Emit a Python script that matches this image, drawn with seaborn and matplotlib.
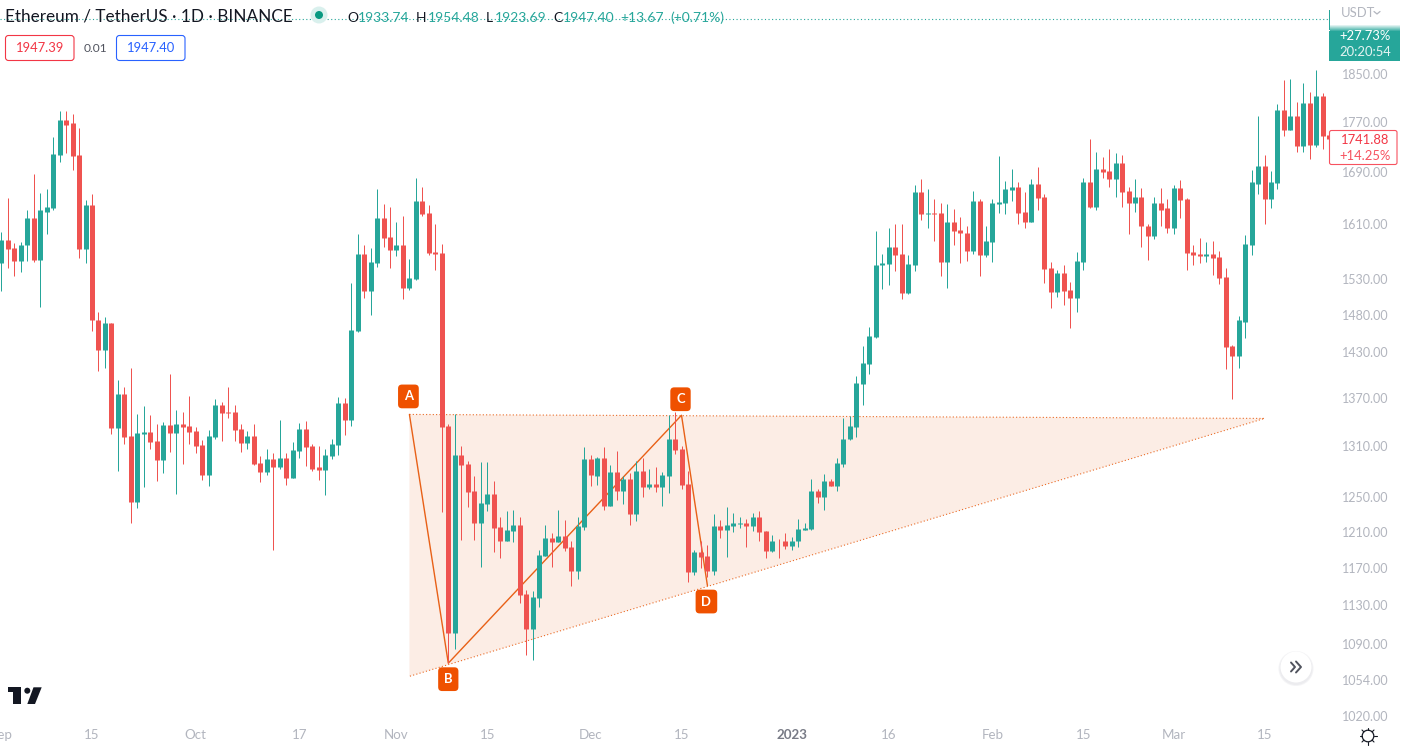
import numpy as np
import pandas as pd
import matplotlib
matplotlib.use("Agg")
import matplotlib.pyplot as plt
from matplotlib.patches import FancyBboxPatch, Circle, Rectangle, Polygon
import seaborn as sns

opens = [1553,1586,1574,1556,1578,1618,1557,1628,1634,1716,
1773,1767,1716,1573,1638,1473,1432,1469,1332,1375,
1322,1244,1325,1327,1316,1293,1336,1326,1337,1335,
1328,1311,1275,1321,1361,1352,1352,1331,1314,1322,
1289,1279,1294,1285,1295,1272,1304,1331,1310,1285,
1281,1298,1311,1363,1342,1458,1566,1513,1553,1619,
1591,1571,1579,1517,1530,1645,1626,1569,1567,1335,
1101,1299,1288,1256,1220,1241,1253,1215,1199,1211,
1217,1142,1105,1138,1183,1203,1198,1205,1193,1167,
1215,1294,1274,1295,1239,1279,1257,1270,1230,1280,
1261,1265,1261,1274,1319,1306,1265,1166,1187,1183,
1167,1216,1212,1216,1219,1220,1216,1227,1211,1189,
1200,1200,1194,1199,1212,1213,1256,1249,1268,1262,
1288,1318,1333,1388,1414,1449,1549,1551,1576,1566,
1510,1550,1658,1625,1626,1626,1554,1612,1601,1596,
1570,1645,1564,1583,1640,1641,1661,1666,1628,1613,
1671,1651,1545,1511,1538,1514,1503,1554,1674,1636,
1694,1691,1678,1703,1660,1641,1651,1607,1592,1641,
1633,1604,1665,1648,1569,1566,1563,1566,1561,1532,
1437,1424,1470,1579,1671,1698,1648,1672,1790,1756,
1780,1730,1801,1732,1813,1748]
highs = [1598,1649,1582,1583,1631,1686,1657,1663,1745,1788,
1788,1783,1760,1646,1655,1483,1476,1469,1393,1384,
1409,1350,1360,1348,1337,1340,1400,1355,1352,1372,
1333,1317,1330,1368,1365,1384,1361,1337,1328,1337,
1298,1306,1301,1342,1301,1315,1338,1341,1312,1310,
1306,1319,1371,1370,1524,1595,1579,1574,1663,1640,
1636,1613,1622,1558,1680,1666,1638,1609,1580,1337,
1350,1310,1292,1274,1291,1291,1268,1227,1233,1234,
1226,1146,1145,1190,1217,1208,1235,1223,1199,1227,
1309,1299,1297,1309,1287,1304,1274,1278,1292,1295,
1283,1285,1279,1348,1352,1310,1280,1190,1200,1195,
1230,1223,1238,1231,1227,1224,1231,1233,1211,1206,
1202,1209,1204,1224,1220,1271,1259,1276,1270,1295,
1345,1347,1398,1437,1463,1599,1566,1604,1609,1610,
1564,1669,1679,1663,1648,1641,1640,1632,1620,1607,
1660,1648,1606,1648,1714,1675,1694,1674,1658,1679,
1697,1655,1554,1543,1549,1525,1569,1680,1742,1721,
1713,1726,1719,1716,1666,1678,1665,1609,1651,1665,
1648,1669,1677,1649,1578,1589,1583,1585,1570,1545,
1439,1478,1594,1692,1780,1716,1691,1799,1840,1841,
1803,1835,1819,1857,1818,1748]
lows = [1513,1545,1534,1539,1556,1554,1491,1595,1630,1705,
1719,1692,1560,1553,1458,1405,1409,1325,1280,1312,
1220,1237,1261,1306,1268,1278,1303,1253,1288,1312,
1301,1269,1262,1318,1316,1345,1316,1303,1306,1287,
1267,1275,1190,1282,1263,1272,1295,1286,1280,1269,
1252,1294,1299,1323,1335,1456,1503,1480,1547,1576,
1545,1563,1501,1514,1528,1621,1564,1543,1232,1071,
1085,1201,1238,1201,1171,1233,1187,1181,1199,1198,
1133,1079,1074,1128,1183,1171,1198,1189,1151,1158,
1212,1262,1264,1235,1239,1246,1241,1217,1222,1249,
1259,1255,1239,1254,1300,1259,1155,1162,1170,1160,
1162,1203,1182,1210,1214,1193,1211,1200,1181,1187,
1181,1191,1190,1193,1212,1212,1243,1235,1262,1257,
1285,1317,1321,1361,1401,1448,1515,1521,1541,1501,
1508,1541,1616,1604,1585,1534,1517,1578,1553,1556,
1566,1534,1561,1554,1626,1625,1645,1609,1604,1613,
1630,1524,1489,1504,1493,1462,1483,1543,1634,1630,
1680,1666,1651,1636,1595,1628,1576,1557,1587,1607,
1596,1595,1619,1543,1549,1553,1554,1535,1523,1407,
1368,1409,1448,1564,1655,1610,1633,1663,1746,1756,
1721,1721,1710,1729,1726,1740]
closes = [1586,1573,1556,1579,1618,1557,1630,1636,1717,1773,
1765,1714,1573,1638,1472,1432,1469,1332,1375,1321,
1244,1326,1327,1315,1293,1336,1326,1337,1333,1327,
1310,1275,1322,1361,1351,1351,1330,1314,1322,1288,
1279,1294,1285,1295,1272,1305,1331,1309,1283,1281,
1299,1312,1363,1342,1459,1566,1513,1554,1619,1589,
1571,1579,1517,1531,1645,1625,1567,1566,1333,1101,
1299,1287,1255,1220,1243,1253,1214,1199,1212,1217,
1141,1105,1139,1184,1203,1198,1205,1192,1167,1216,
1294,1275,1295,1239,1279,1257,1270,1230,1280,1261,
1265,1261,1275,1319,1305,1264,1166,1187,1182,1167,
1216,1212,1217,1220,1220,1216,1227,1210,1189,1200,
1199,1194,1200,1213,1214,1256,1249,1268,1262,1289,
1319,1335,1389,1415,1451,1550,1553,1576,1564,1510,
1551,1658,1625,1626,1625,1554,1612,1599,1596,1570,
1645,1564,1585,1641,1643,1663,1666,1626,1613,1671,
1649,1544,1511,1538,1513,1503,1556,1674,1636,1694,
1689,1678,1703,1658,1641,1651,1606,1592,1641,1631,
1604,1665,1646,1567,1564,1563,1566,1560,1531,1436,
1424,1472,1580,1674,1698,1648,1674,1790,1756,1780,
1730,1801,1732,1813,1746,1741.88]

price_ticks = [1850,1770,1690,1610,1530,1480,1430,1370,1310,1250,1210,1170,1130,1090,1054,1020]
date_ticks = [0,14,30,46,61,75,91,105,122,137,153,167,181,195]
date_labels = ["Sep","15","Oct","17","Nov","15","Dec","15","2023","16","Feb","15","Mar","15"]

pattern_idx = [63,69,105,109]
pattern_price = [1349,1071,1348,1151]
pattern_names = ["A","B","C","D"]
wedge_idx = [63,195,63]
wedge_price = [1349,1344,1058]
last_close = 1947.40

GREEN, RED = "#26a69a", "#ef5350"
ORANGE = "#e65100"
GRAY = "#b2b5be"

sns.set_theme(style="white")
FONT = "Lato"
plt.rcParams["font.family"] = [FONT, "DejaVu Sans"]

fig = plt.figure(figsize=(14.02, 7.5), dpi=100, facecolor="white")
ax = fig.add_axes([0, 25/750, 1329/1402, 725/750])
ax.set_yscale("log")

n = len(opens)
idx = np.arange(n)
direction = np.where(np.array(closes) >= np.array(opens), "up", "down")
wicks = pd.DataFrame({"i": np.tile(idx, 2), "price": lows + highs, "dir": np.tile(direction, 2)})
bodies = pd.DataFrame({"i": np.tile(idx, 2), "price": opens + closes, "dir": np.tile(direction, 2)})
palette = {"up": GREEN, "down": RED}

# pattern below the candles
ax.fill(wedge_idx, wedge_price, facecolor=ORANGE, alpha=0.1, edgecolor="none", zorder=1)
ax.plot(wedge_idx, wedge_price, color=ORANGE, lw=0.8, ls=(0, (1, 2)), zorder=1.5, alpha=.85)
ax.plot(pattern_idx, pattern_price, color=ORANGE, lw=1.0, zorder=1.6, alpha=.9)

sns.lineplot(data=wicks, x="i", y="price", hue="dir", units="i", estimator=None, palette=palette,
             linewidth=0.72, legend=False, sort=False, ax=ax, zorder=3, solid_capstyle="butt")
sns.lineplot(data=bodies, x="i", y="price", hue="dir", units="i", estimator=None, palette=palette,
             linewidth=3.6, legend=False, sort=False, ax=ax, zorder=4, solid_capstyle="butt")

ax.axhline(last_close, color=GREEN, lw=0.8, ls=(0, (1, 2.2)), zorder=2)

ax.set_xlim(-0.2, 204.95)
ax.set_ylim(1011.3, 1981.5)
ax.set_xlabel("")
ax.set_ylabel("")
for s in ax.spines.values():
    s.set_visible(False)
ax.yaxis.tick_right()
ax.yaxis.set_minor_locator(matplotlib.ticker.NullLocator())
ax.set_yticks(price_ticks)
ax.set_yticklabels([f"{p:.2f}" for p in price_ticks])
ax.set_xticks(date_ticks)
ax.set_xticklabels(date_labels)
ax.tick_params(axis="y", length=0, pad=9.4, labelsize=9.0, labelcolor=GRAY)
ax.tick_params(axis="x", length=0, pad=3, labelsize=9.6, labelcolor=GRAY)
for t in ax.get_xticklabels():
    if t.get_text() == "2023":
        t.set_fontweight("bold")
        t.set_color("#787b86")

# pattern point labels
offs = {"A": (-1, 18), "B": (0, -16), "C": (-1, 16), "D": (-1, -16)}
for name, i, p in zip(pattern_names, pattern_idx, pattern_price):
    ax.annotate(name, (i, p), xytext=offs[name], textcoords="offset pixels", ha="center", va="center",
                color="white", fontsize=9.4, fontweight="bold", zorder=6,
                bbox=dict(boxstyle="round,pad=0.45,rounding_size=0.3", fc="#ef5100", ec="none"))

# overlay in pixel coordinates for the terminal furniture
ov = fig.add_axes([0, 0, 1, 1], zorder=10)
ov.set_xlim(0, 1402)
ov.set_ylim(750, 0)
ov.axis("off")

def txt(x, y, s, color, size=9.4, ha="left", **kw):
    ov.text(x, y, s, color=color, fontsize=size, ha=ha, va="center", **kw)

txt(5, 17, "Ethereum / TetherUS · 1D · BINANCE", "#131722", size=12.3)
ov.add_patch(Circle((319, 15), 8.5, fc="#d9f0ed", ec="none"))
ov.add_patch(Circle((319, 15), 4, fc="#089981", ec="none"))

for x, s, c in [(347, "O", "#131722"), (358, "1933.74", GREEN), (416, "H", "#131722"), (428, "1954.48", GREEN),
                (486, "L", "#131722"), (495, "1923.69", GREEN), (553, "C", "#131722"), (563, "1947.40", GREEN),
                (620, "+13.67", GREEN), (670, "(+0.71%)", GREEN)]:
    txt(x, 18, s, c, size=10)

for x0, x1, c, s in [(5.5, 74, "#f23645", "1947.39"), (116.5, 185, "#2962ff", "1947.40")]:
    ov.add_patch(FancyBboxPatch((x0, 35.5), x1 - x0, 25, boxstyle="round,pad=0,rounding_size=3",
                                fc="white", ec=c, lw=0.8, mutation_aspect=1))
    txt((x0 + x1) / 2, 48, s, c, size=9.4, ha="center")
txt(95, 48, "0.01", "#50535e", size=8.6, ha="center")

# currency and countdown panel
txt(1341, 13, "USDT", GRAY, size=9.4)
ov.plot([1374, 1377, 1380], [11.5, 14, 11.5], color=GRAY, lw=0.9)
ov.add_patch(Rectangle((1329, 10), 1, 20, fc=GREEN, ec="none"))
for k in range(6):
    ov.add_patch(Rectangle((1330, 25 + k), 70, 1, fc=GREEN, ec="none", alpha=(k + 1) / 7))
ov.add_patch(Rectangle((1329, 31), 71, 30, fc=GREEN, ec="none"))
txt(1365, 36, "+27.73%", "white", size=9.4, ha="center")
txt(1365, 52, "20:20:54", "#e4f4f2", size=9.4, ha="center")

# last price label
ov.add_patch(FancyBboxPatch((1329.5, 130.5), 67.5, 34, boxstyle="round,pad=0,rounding_size=2",
                            fc="white", ec="#f7525f", lw=0.8))
txt(1365, 140, "1741.88", "#f23645", size=9.4, ha="center")
txt(1365, 156, "+14.25%", "#f7525f", size=9.4, ha="center")

# logo
LOGO = "#131722"
ov.add_patch(Polygon([(8.3, 687.3), (20.7, 687.3), (20.7, 704), (13.3, 704), (13.3, 692.3), (8.3, 692.3)], fc=LOGO, ec="none"))
ov.add_patch(Circle((27.3, 690.7), 3, fc=LOGO, ec="none"))
ov.add_patch(Polygon([(33.5, 687.3), (41.7, 687.3), (35, 704), (27.3, 704)], fc=LOGO, ec="none"))

# scroll button
for r, c in [(17.5, "#f4f4f6"), (16.5, "#ececef")]:
    ov.add_patch(Circle((1296, 668.5), r, fc=c, ec="none"))
ov.add_patch(Circle((1296, 667), 15.5, fc="white", ec="none"))
ov.plot([1291, 1295, 1291], [662.5, 667, 671.5], color="#50535e", lw=1.4)
ov.plot([1296, 1301, 1296], [661.5, 667, 672.5], color="#50535e", lw=1.4)

# settings icon
cx, cy = 1368, 736
ov.add_patch(Circle((cx, cy), 5.8, fc="none", ec="#131722", lw=0.9))
for a in np.arange(8) * np.pi / 4:
    ov.plot([cx + 5.8 * np.cos(a), cx + 8.5 * np.cos(a)], [cy + 5.8 * np.sin(a), cy + 8.5 * np.sin(a)],
            color="#131722", lw=0.8)

fig.savefig("out.png", dpi=100)
